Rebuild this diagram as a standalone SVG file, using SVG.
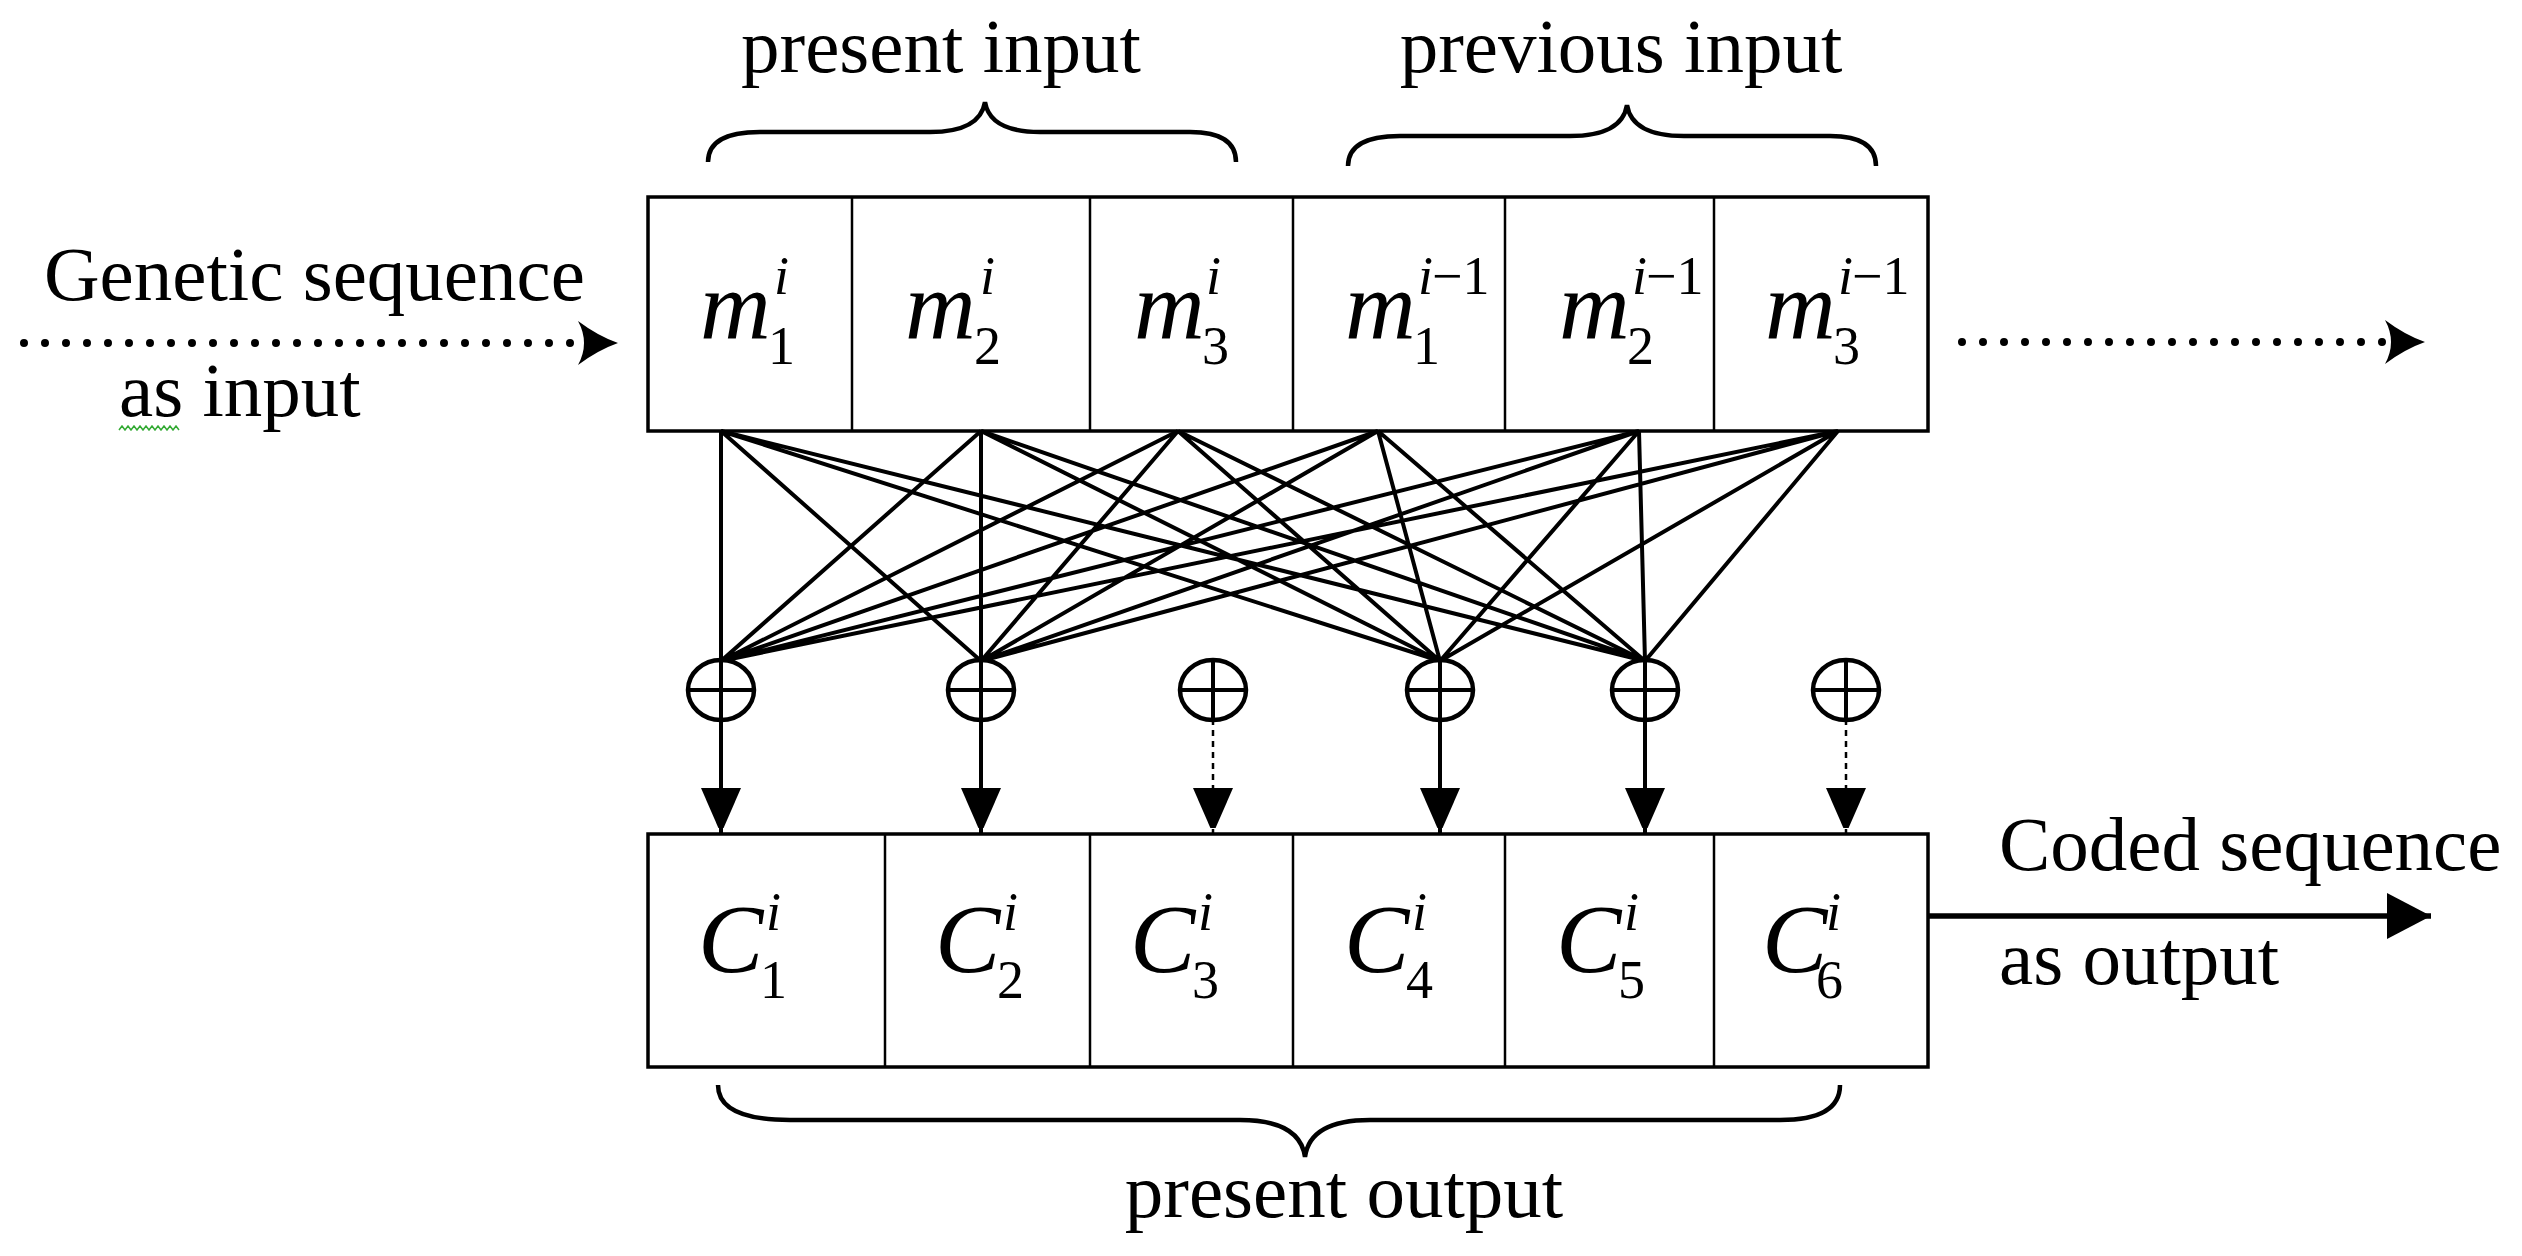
<svg xmlns="http://www.w3.org/2000/svg" width="2522" height="1256" viewBox="0 0 2522 1256">
<style>
.t{font-family:"Liberation Serif",serif;font-size:77px;fill:#000}
.m{font-family:"Liberation Serif",serif;font-style:italic;font-size:98px;fill:#000}
.s{font-family:"Liberation Serif",serif;font-size:54px;fill:#000}
.si{font-family:"Liberation Serif",serif;font-style:italic;font-size:54px;fill:#000}
.box{fill:#fff;stroke:#000;stroke-width:3.5}
.div{stroke:#000;stroke-width:2.5}
.ln{stroke:#000;stroke-width:4;fill:none}
.br{stroke:#000;stroke-width:4.5;fill:none}
.x{fill:#fff;stroke:#000;stroke-width:4.5}
.dots{stroke:#000;stroke-width:8;stroke-linecap:round;stroke-dasharray:0 21;fill:none}
</style>
<defs>
<marker id="ah" markerUnits="userSpaceOnUse" markerWidth="40" markerHeight="48" refX="46" refY="20" orient="auto"><path d="M0,0 L46,20 L0,40 Z" fill="#000"/></marker>
<marker id="ah2" markerUnits="userSpaceOnUse" markerWidth="44" markerHeight="48" refX="44" refY="23" orient="auto"><path d="M0,0 L44,23 L0,46 Z" fill="#000"/></marker>
</defs>

<g id="labels">
<text class="t" x="941" y="72" text-anchor="middle">present input</text>
<text class="t" x="1621" y="72" text-anchor="middle">previous input</text>
<text class="t" x="1344" y="1217" text-anchor="middle">present output</text>
<text class="t" x="44" y="300">Genetic sequence</text>
<text class="t" x="119" y="416">as input</text>
<path d="M119,430 l3,-4 l3,4 l3,-4 l3,4 l3,-4 l3,4 l3,-4 l3,4 l3,-4 l3,4 l3,-4 l3,4 l3,-4 l3,4 l3,-4 l3,4 l3,-4 l3,4 l3,-4 l3,4" stroke="#3a3" stroke-width="1.5" fill="none"/>
<text class="t" x="1999" y="870">Coded sequence</text>
<text class="t" x="1999" y="984">as output</text>
</g>

<g id="braces">
<path class="br" d="M708,162 Q708,132 760,132 L930,132 Q980,132 985,102 Q990,132 1040,132 L1190,132 Q1236,132 1236,162"/>
<path class="br" d="M1348,166 Q1348,136 1400,136 L1570,136 Q1622,136 1627,105 Q1632,136 1684,136 L1830,136 Q1876,136 1876,166"/>
<path class="br" d="M718,1085 Q718,1120 790,1120 L1240,1120 Q1300,1120 1305,1157 Q1310,1120 1370,1120 L1780,1120 Q1840,1120 1840,1085"/>
</g>

<g id="input-register">
<rect class="box" x="648" y="197" width="1280" height="234"/>
<line class="div" x1="852" y1="197" x2="852" y2="431"/>
<line class="div" x1="1090" y1="197" x2="1090" y2="431"/>
<line class="div" x1="1293" y1="197" x2="1293" y2="431"/>
<line class="div" x1="1505" y1="197" x2="1505" y2="431"/>
<line class="div" x1="1714" y1="197" x2="1714" y2="431"/>
<text class="m" x="700" y="338">m</text><text class="s" x="768" y="364">1</text><text class="si" x="774" y="294">i</text>
<text class="m" x="905" y="338">m</text><text class="s" x="974" y="364">2</text><text class="si" x="980" y="294">i</text>
<text class="m" x="1134" y="338">m</text><text class="s" x="1202" y="364">3</text><text class="si" x="1206" y="294">i</text>
<text class="m" x="1345" y="338">m</text><text class="s" x="1413" y="364">1</text><text class="si" x="1418" y="294">i</text><text class="s" x="1432" y="294">−1</text>
<text class="m" x="1559" y="338">m</text><text class="s" x="1627" y="364">2</text><text class="si" x="1632" y="294">i</text><text class="s" x="1646" y="294">−1</text>
<text class="m" x="1765" y="338">m</text><text class="s" x="1833" y="364">3</text><text class="si" x="1838" y="294">i</text><text class="s" x="1852" y="294">−1</text>
</g>

<g id="output-register">
<rect class="box" x="648" y="834" width="1280" height="233"/>
<line class="div" x1="885" y1="834" x2="885" y2="1067"/>
<line class="div" x1="1090" y1="834" x2="1090" y2="1067"/>
<line class="div" x1="1293" y1="834" x2="1293" y2="1067"/>
<line class="div" x1="1505" y1="834" x2="1505" y2="1067"/>
<line class="div" x1="1714" y1="834" x2="1714" y2="1067"/>
<text class="m" x="698" y="972">C</text><text class="s" x="760" y="998">1</text><text class="si" x="766" y="930">i</text>
<text class="m" x="935" y="972">C</text><text class="s" x="997" y="998">2</text><text class="si" x="1003" y="930">i</text>
<text class="m" x="1130" y="972">C</text><text class="s" x="1192" y="998">3</text><text class="si" x="1198" y="930">i</text>
<text class="m" x="1344" y="972">C</text><text class="s" x="1406" y="998">4</text><text class="si" x="1412" y="930">i</text>
<text class="m" x="1556" y="972">C</text><text class="s" x="1618" y="998">5</text><text class="si" x="1624" y="930">i</text>
<text class="m" x="1762" y="972">C</text><text class="s" x="1816" y="998">6</text><text class="si" x="1826" y="930">i</text>
</g>

<g id="connectors">
<path class="ln" d="M721,431 L721,661 M721,431 L981,661 M721,431 L1440,661 M721,431 L1645,661
M981,431 L721,661 M981,431 L981,661 M981,431 L1440,661 M981,431 L1645,661
M1178,431 L721,661 M1178,431 L981,661 M1178,431 L1440,661 M1178,431 L1645,661
M1378,431 L721,661 M1378,431 L981,661 M1378,431 L1440,661 M1378,431 L1645,661
M1639,431 L721,661 M1639,431 L981,661 M1639,431 L1440,661 M1639,431 L1645,661
M1838,431 L721,661 M1838,431 L981,661 M1838,431 L1440,661 M1838,431 L1645,661"/>
<line class="ln" x1="721" y1="719" x2="721" y2="834" marker-end="url(#ah)"/>
<line class="ln" x1="981" y1="719" x2="981" y2="834" marker-end="url(#ah)"/>
<line x1="1213" y1="719" x2="1213" y2="834" stroke="#000" stroke-width="2.5" stroke-dasharray="6 5" marker-end="url(#ah)"/>
<line class="ln" x1="1440" y1="719" x2="1440" y2="834" marker-end="url(#ah)"/>
<line class="ln" x1="1645" y1="719" x2="1645" y2="834" marker-end="url(#ah)"/>
<line x1="1846" y1="719" x2="1846" y2="834" stroke="#000" stroke-width="2.5" stroke-dasharray="6 5" marker-end="url(#ah)"/>
<line class="dots" x1="24" y1="343" x2="574" y2="343"/>
<path d="M578,321 Q598,336 618,343 Q598,350 578,365 Q590,343 578,321 Z" fill="#000"/>
<line class="dots" x1="1962" y1="342" x2="2384" y2="342"/>
<path d="M2385,320 Q2405,335 2425,342 Q2405,349 2385,364 Q2397,342 2385,320 Z" fill="#000"/>
<line x1="1928" y1="916" x2="2431" y2="916" stroke="#000" stroke-width="5.5" marker-end="url(#ah2)"/>
</g>

<g id="xor1"><ellipse class="x" cx="721" cy="690" rx="33" ry="30"/><path class="ln" d="M688,690 H754 M721,660 V720"/></g>
<g id="xor2"><ellipse class="x" cx="981" cy="690" rx="33" ry="30"/><path class="ln" d="M948,690 H1014 M981,660 V720"/></g>
<g id="xor3"><ellipse class="x" cx="1213" cy="690" rx="33" ry="30"/><path class="ln" d="M1180,690 H1246 M1213,660 V720"/></g>
<g id="xor4"><ellipse class="x" cx="1440" cy="690" rx="33" ry="30"/><path class="ln" d="M1407,690 H1473 M1440,660 V720"/></g>
<g id="xor5"><ellipse class="x" cx="1645" cy="690" rx="33" ry="30"/><path class="ln" d="M1612,690 H1678 M1645,660 V720"/></g>
<g id="xor6"><ellipse class="x" cx="1846" cy="690" rx="33" ry="30"/><path class="ln" d="M1813,690 H1879 M1846,660 V720"/></g>
</svg>
